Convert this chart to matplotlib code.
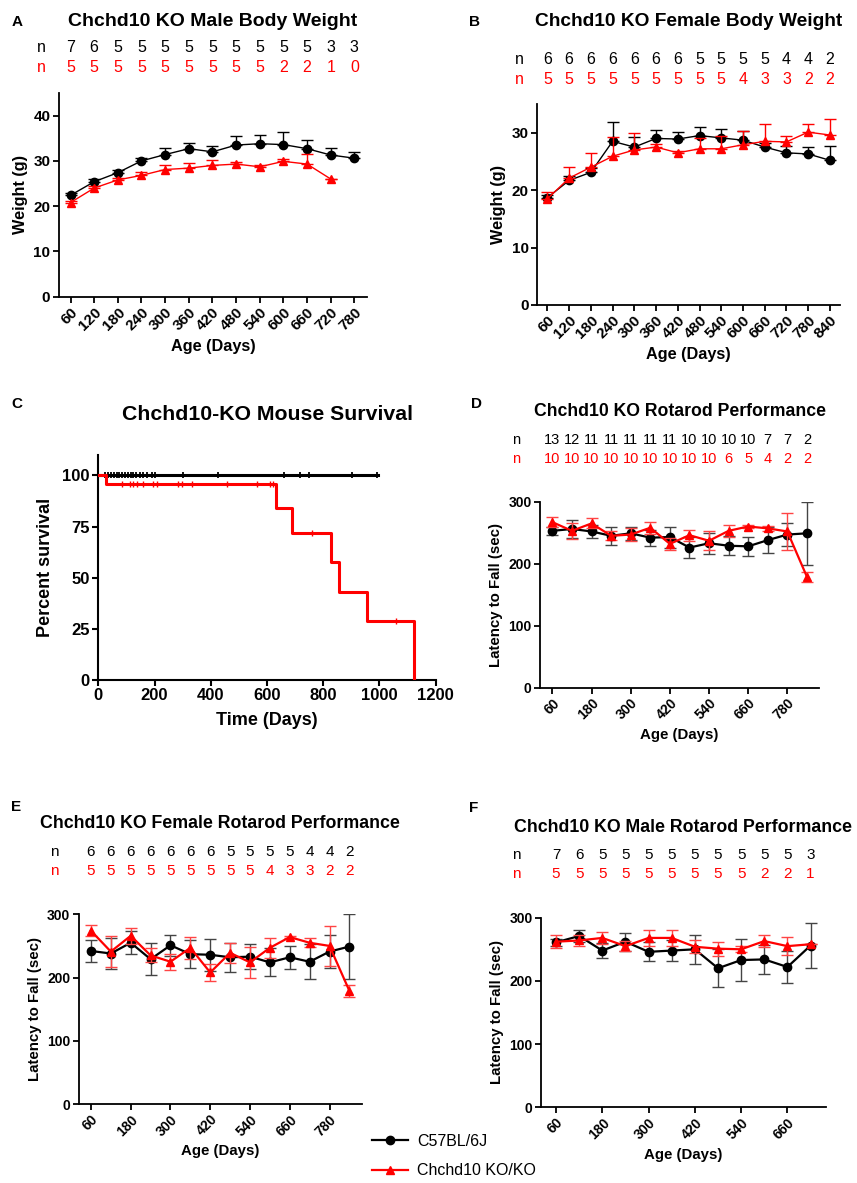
import matplotlib
matplotlib.use("Agg")
import matplotlib.pyplot as plt
import matplotlib.transforms as mtrans
import numpy as np

plt.rcParams['font.family'] = ['Liberation Sans', 'DejaVu Sans']

RED = '#ff0000'
BLACK = '#000000'

# ---------------- Data ----------------
# Panel A: male body weight
a_days = [60, 120, 180, 240, 300, 360, 420, 480, 540, 600, 660, 720, 780]
a_wt = [22.4, 25.4, 27.4, 30.0, 31.4, 32.7, 32.0, 33.5, 33.8, 33.6, 32.7, 31.3, 30.6]
a_wt_err = [0.5, 0.6, 0.5, 0.7, 1.5, 1.3, 1.3, 1.9, 2.0, 2.7, 2.0, 1.6, 1.4]
a_ko_days = [60, 120, 180, 240, 300, 360, 420, 480, 540, 600, 660, 720]
a_ko = [20.8, 24.0, 25.8, 26.8, 28.1, 28.4, 29.0, 29.3, 28.7, 29.9, 29.3, 26.0]
a_ko_err = [0.4, 0.4, 0.4, 0.8, 1.1, 1.1, 1.1, 0.5, 0.4, 0.5, 2.3, 0.0]
a_n_wt = [7, 6, 5, 5, 5, 5, 5, 5, 5, 5, 5, 3, 3]
a_n_ko = [5, 5, 5, 5, 5, 5, 5, 5, 5, 2, 2, 1, 0]

# Panel B: female body weight
b_days = [60, 120, 180, 240, 300, 360, 420, 480, 540, 600, 660, 720, 780, 840]
b_wt = [18.7, 21.7, 23.1, 28.5, 27.5, 29.0, 28.9, 29.5, 29.1, 28.7, 27.5, 26.5, 26.3, 25.2]
b_wt_err = [0.5, 0.7, 0.8, 3.3, 1.8, 1.5, 1.3, 1.5, 1.5, 1.6, 0.7, 1.1, 1.2, 2.4]
b_ko = [18.5, 22.1, 24.0, 25.9, 27.0, 27.5, 26.5, 27.2, 27.2, 27.9, 28.5, 28.4, 30.1, 29.6]
b_ko_err = [1.2, 2.0, 2.5, 3.4, 3.0, 0.6, 0.4, 1.8, 2.3, 2.4, 3.0, 1.0, 1.4, 2.8]
b_n_wt = [6, 6, 6, 6, 6, 6, 6, 5, 5, 5, 5, 4, 4, 2]
b_n_ko = [5, 5, 5, 5, 5, 5, 5, 5, 5, 4, 3, 3, 2, 2]

# Panel C: survival
c_wt_times = [0, 994]
c_wt_surv = [100, 100]
c_wt_censor = [24, 35, 45, 55, 65, 75, 85, 95, 105, 115, 125, 135, 150, 160, 172,
               190, 200, 300, 427, 662, 718, 750, 902, 991]
c_ko_times = [0, 27, 632, 690, 828, 855, 957, 1123]
c_ko_surv = [100, 96, 84, 72, 57.5, 43, 29, 0]
c_ko_censor_t = [83, 113, 125, 137, 160, 196, 208, 285, 297, 332, 457, 564, 611, 623, 762, 1058]
c_ko_censor_s = [96, 96, 96, 96, 96, 96, 96, 96, 96, 96, 96, 96, 96, 96, 72, 29]

# Panel D: rotarod all
d_days = [60, 120, 180, 240, 300, 360, 420, 480, 540, 600, 660, 720, 780, 840]
d_wt = [253, 256, 252, 245, 249, 242, 243, 226, 233, 229, 228, 238, 247, 249]
d_wt_err = [6, 14, 10, 15, 11, 13, 17, 17, 17, 15, 15, 21, 18, 51]
d_ko = [267, 253, 265, 245, 247, 258, 232, 246, 237, 253, 260, 257, 252, 179]
d_ko_err = [8, 13, 8, 7, 10, 10, 10, 9, 15, 10, 3, 4, 30, 8]
d_n_wt = [13, 12, 11, 11, 11, 11, 11, 10, 10, 10, 10, 7, 7, 2]
d_n_ko = [10, 10, 10, 10, 10, 10, 10, 10, 10, 6, 5, 4, 2, 2]

# Panel E: female rotarod
e_days = [60, 120, 180, 240, 300, 360, 420, 480, 540, 600, 660, 720, 780, 840]
e_wt = [242, 238, 255, 229, 251, 237, 236, 232, 233, 224, 232, 225, 241, 249]
e_wt_err = [18, 24, 18, 25, 17, 22, 25, 23, 20, 22, 18, 28, 26, 51]
e_ko = [274, 241, 266, 235, 225, 247, 208, 239, 224, 247, 264, 255, 250, 179]
e_ko_err = [9, 24, 13, 11, 13, 17, 13, 16, 24, 16, 2, 7, 31, 9]
e_n_wt = [6, 6, 6, 6, 6, 6, 6, 5, 5, 5, 5, 4, 4, 2]
e_n_ko = [5, 5, 5, 5, 5, 5, 5, 5, 5, 4, 3, 3, 2, 2]

# Panel F: male rotarod
f_days = [60, 120, 180, 240, 300, 360, 420, 480, 540, 600, 660, 720]
f_wt = [261, 271, 248, 262, 246, 248, 250, 220, 233, 234, 222, 256]
f_wt_err = [6, 10, 12, 14, 15, 17, 23, 30, 33, 23, 25, 36]
f_ko = [262, 264, 268, 255, 268, 268, 254, 251, 250, 263, 255, 258]
f_ko_err = [10, 9, 9, 8, 12, 13, 10, 11, 5, 9, 14, 0]
f_n_wt = [7, 6, 5, 5, 5, 5, 5, 5, 5, 5, 5, 3]
f_n_ko = [5, 5, 5, 5, 5, 5, 5, 5, 5, 2, 2, 1]

series_labels = ['C57BL/6J', 'Chchd10 KO/KO']

# ---------------- Figure ----------------
W, H = 857, 1183
fig = plt.figure(figsize=(W / 100, H / 100), dpi=100)


def add_ax(left, right, top, bottom):
    return fig.add_axes([left / W, 1 - bottom / H, (right - left) / W, (bottom - top) / H])


def style_ax(ax, lw=1.3, size=9.5):
    for s in ['top', 'right']:
        ax.spines[s].set_visible(False)
    for s in ['left', 'bottom']:
        ax.spines[s].set_linewidth(lw)
    ax.tick_params(direction='out', length=4, width=lw, labelsize=size, pad=2)
    for lab in ax.get_xticklabels() + ax.get_yticklabels():
        lab.set_fontweight('bold')


def n_rows(ax, xs, n1, n2, y1, y2, nx, size=11):
    tr = mtrans.blended_transform_factory(ax.transData, fig.transFigure)
    fig.text(nx / W, 1 - y1 / H, 'n', color=BLACK, fontsize=size, ha='center', va='center')
    fig.text(nx / W, 1 - y2 / H, 'n', color=RED, fontsize=size, ha='center', va='center')
    for x, a, b in zip(xs, n1, n2):
        ax.text(x, 1 - y1 / H, str(a), transform=tr, color=BLACK, fontsize=size,
                ha='center', va='center', clip_on=False)
        ax.text(x, 1 - y2 / H, str(b), transform=tr, color=RED, fontsize=size,
                ha='center', va='center', clip_on=False)


def weight_panel(ax, xs, ys, es, xk, yk, ek):
    ax.errorbar(xs, ys, yerr=[np.zeros(len(es)), es], color=BLACK, ecolor=BLACK,
                marker='o', markersize=6, lw=1.0, elinewidth=1.0, capsize=4, capthick=1.0, zorder=3)
    ax.errorbar(xk, yk, yerr=[np.zeros(len(ek)), ek], color=RED, ecolor=RED,
                marker='^', markersize=6, lw=1.0, elinewidth=1.0, capsize=4, capthick=1.0, zorder=4)


def rotarod_panel(ax, xs, ys, es, yk, ek):
    ax.errorbar(xs, ys, yerr=es, color=BLACK, ecolor='#444444',
                marker='o', markersize=6, lw=1.6, elinewidth=1.0, capsize=4, capthick=1.0, zorder=3)
    ax.errorbar(xs, yk, yerr=ek, color=RED, ecolor='#ff4444',
                marker='^', markersize=6, lw=1.6, elinewidth=1.0, capsize=4, capthick=1.0, zorder=4)


def panel_letter(x, y, s):
    fig.text(x / W, 1 - y / H, s, fontsize=11, fontweight='bold', ha='center', va='center')


# ---- Panel A ----
axA = add_ax(58.7, 367, 93, 296.7)
weight_panel(axA, a_days, a_wt, a_wt_err, a_ko_days, a_ko, a_ko_err)
axA.set_xlim(30, 812)
axA.set_ylim(0, 45)
axA.set_yticks([0, 10, 20, 30, 40])
axA.set_xticks(a_days)
axA.set_xticklabels([str(d) for d in a_days], rotation=45, ha='right', rotation_mode='anchor')
style_ax(axA, size=11)
axA.set_ylabel('Weight (g)', fontsize=11.7, fontweight='bold', labelpad=4)
axA.set_xlabel('Age (Days)', fontsize=11.7, fontweight='bold', labelpad=4)
fig.text(213 / W, 1 - 22 / H, 'Chchd10 KO Male Body Weight', fontsize=14, fontweight='bold',
         ha='center', va='center')
panel_letter(17, 22, 'A')
n_rows(axA, a_days, a_n_wt, a_n_ko, 47, 68, 41.7, size=11.5)

# ---- Panel B ----
axB = add_ax(537.3, 840, 104, 305)
weight_panel(axB, b_days, b_wt, b_wt_err, b_days, b_ko, b_ko_err)
axB.set_xlim(32, 868)
axB.set_ylim(0, 35)
axB.set_yticks([0, 10, 20, 30])
axB.set_xticks(b_days)
axB.set_xticklabels([str(d) for d in b_days], rotation=45, ha='right', rotation_mode='anchor')
style_ax(axB, size=11)
axB.set_ylabel('Weight (g)', fontsize=11.7, fontweight='bold', labelpad=4)
axB.set_xlabel('Age (Days)', fontsize=11.7, fontweight='bold', labelpad=4)
fig.text(689 / W, 1 - 22 / H, 'Chchd10 KO Female Body Weight', fontsize=13.8, fontweight='bold',
         ha='center', va='center')
panel_letter(475, 22, 'B')
n_rows(axB, b_days, b_n_wt, b_n_ko, 59, 79, 519, size=11.5)

# ---- Panel C ----
axC = add_ax(98.3, 435.5, 455, 680)
axC.step(c_ko_times, c_ko_surv, where='post', color=RED, lw=2.2, zorder=4)
axC.plot(c_wt_times, c_wt_surv, color=BLACK, lw=2.2, zorder=3)
axC.plot(c_wt_censor, [100] * len(c_wt_censor), ls='none', marker='|', color=BLACK,
         markersize=5, mew=1.3, zorder=3)
axC.plot(c_ko_censor_t, c_ko_censor_s, ls='none', marker='|', color=RED,
         markersize=5, mew=1.0, zorder=4)
axC.set_xlim(0, 1200)
axC.set_ylim(0, 110)
axC.set_yticks([0, 25, 50, 75, 100])
axC.set_xticks([0, 200, 400, 600, 800, 1000, 1200])
style_ax(axC, lw=1.5, size=12)
axC.set_ylabel('Percent survival', fontsize=13, fontweight='bold', labelpad=6)
axC.set_xlabel('Time (Days)', fontsize=13, fontweight='bold', labelpad=6)
fig.text(267 / W, 1 - 415 / H, 'Chchd10-KO Mouse Survival', fontsize=15.3, fontweight='bold',
         ha='center', va='center')
panel_letter(17, 404, 'C')

# ---- Panel D ----
axD = add_ax(540, 819.3, 501.7, 687.7)
rotarod_panel(axD, d_days, d_wt, d_wt_err, d_ko, d_ko_err)
axD.set_xlim(22, 878)
axD.set_ylim(0, 300)
axD.set_yticks([0, 100, 200, 300])
axD.set_xticks([60, 180, 300, 420, 540, 660, 780])
axD.set_xticklabels(['60', '180', '300', '420', '540', '660', '780'], rotation=45,
                    ha='right', rotation_mode='anchor')
style_ax(axD, size=10)
axD.set_ylabel('Latency to Fall (sec)', fontsize=10.8, fontweight='bold', labelpad=4)
axD.set_xlabel('Age (Days)', fontsize=10.8, fontweight='bold', labelpad=4)
fig.text(680 / W, 1 - 412 / H, 'Chchd10 KO Rotarod Performance', fontsize=12.7, fontweight='bold',
         ha='center', va='center')
panel_letter(476, 404, 'D')
n_rows(axD, d_days, d_n_wt, d_n_ko, 440, 459, 516, size=10.5)

# ---- Panel E ----
axE = add_ax(78.7, 362.3, 914.3, 1104)
rotarod_panel(axE, e_days, e_wt, e_wt_err, e_ko, e_ko_err)
axE.set_xlim(23, 879)
axE.set_ylim(0, 300)
axE.set_yticks([0, 100, 200, 300])
axE.set_xticks([60, 180, 300, 420, 540, 660, 780])
axE.set_xticklabels(['60', '180', '300', '420', '540', '660', '780'], rotation=45,
                    ha='right', rotation_mode='anchor')
style_ax(axE, size=10)
axE.set_ylabel('Latency to Fall (sec)', fontsize=10.8, fontweight='bold', labelpad=4)
axE.set_xlabel('Age (Days)', fontsize=10.8, fontweight='bold', labelpad=4)
fig.text(220 / W, 1 - 824 / H, 'Chchd10 KO Female Rotarod Performance', fontsize=12.8,
         fontweight='bold', ha='center', va='center')
panel_letter(16, 807, 'E')
n_rows(axE, e_days, e_n_wt, e_n_ko, 852, 871, 54, size=11)

# ---- Panel F ----
axF = add_ax(541, 826, 917.7, 1107.3)
rotarod_panel(axF, f_days, f_wt, f_wt_err, f_ko, f_ko_err)
axF.set_xlim(21, 760)
axF.set_ylim(0, 300)
axF.set_yticks([0, 100, 200, 300])
axF.set_xticks([60, 180, 300, 420, 540, 660])
axF.set_xticklabels(['60', '180', '300', '420', '540', '660'], rotation=45,
                    ha='right', rotation_mode='anchor')
style_ax(axF, size=10)
axF.set_ylabel('Latency to Fall (sec)', fontsize=10.8, fontweight='bold', labelpad=4)
axF.set_xlabel('Age (Days)', fontsize=10.8, fontweight='bold', labelpad=4)
fig.text(683 / W, 1 - 827 / H, 'Chchd10 KO Male Rotarod Performance', fontsize=12.8,
         fontweight='bold', ha='center', va='center')
panel_letter(474, 808, 'F')
n_rows(axF, f_days, f_n_wt, f_n_ko, 855, 874, 516.7, size=11)

# ---- Legend ----
h1 = plt.Line2D([], [], color=BLACK, marker='o', markersize=6, lw=1.6)
h2 = plt.Line2D([], [], color=RED, marker='^', markersize=6, lw=1.6)
fig.legend([h1, h2], series_labels, loc='center left',
           bbox_to_anchor=(358 / W, 1 - 1156 / H), frameon=False, fontsize=11.5,
           handlelength=2.2, labelspacing=0.9, handletextpad=0.6)

fig.savefig('out.png', dpi=100)
